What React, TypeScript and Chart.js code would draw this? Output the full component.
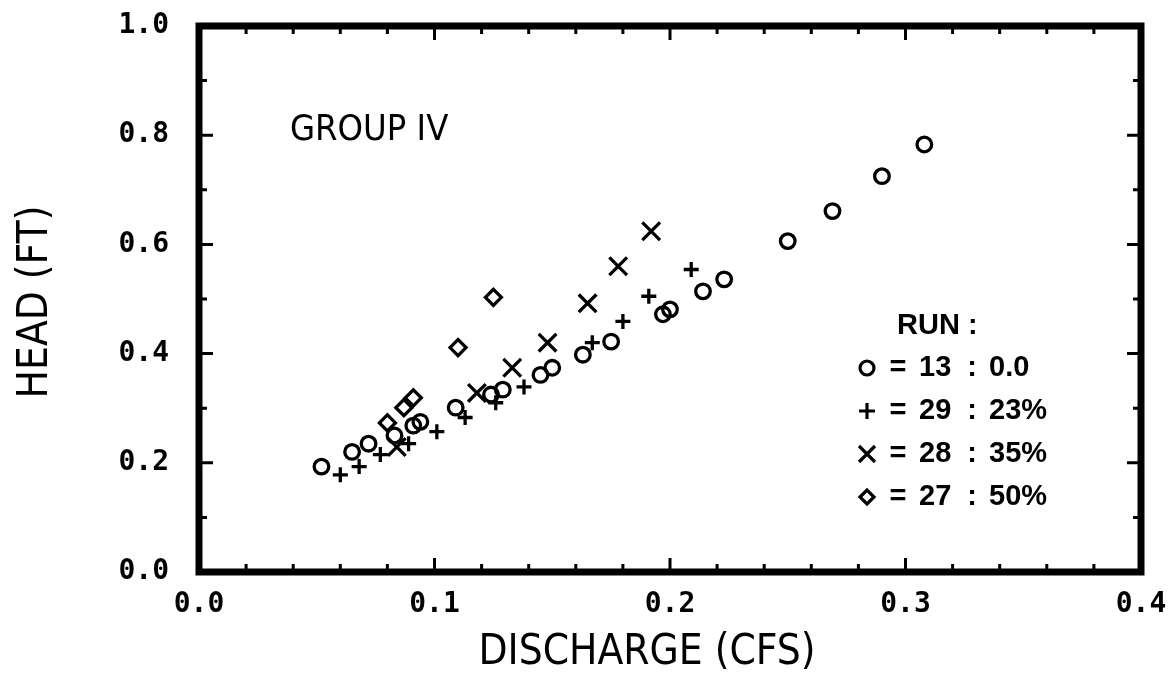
import React, { useEffect, useRef } from "react";
import { Chart, registerables } from "chart.js";

Chart.register(...registerables);

// ---- data ----
const RUN13_X = [0.052, 0.065, 0.072, 0.083, 0.091, 0.094, 0.109, 0.124, 0.129, 0.145, 0.150, 0.163, 0.175, 0.197, 0.200, 0.214, 0.223, 0.250, 0.269, 0.290, 0.308];
const RUN13_Y = [0.193, 0.220, 0.235, 0.250, 0.268, 0.275, 0.301, 0.325, 0.334, 0.361, 0.374, 0.398, 0.422, 0.472, 0.481, 0.514, 0.536, 0.606, 0.661, 0.725, 0.783];
const RUN29_X = [0.060, 0.068, 0.077, 0.089, 0.101, 0.113, 0.126, 0.138, 0.167, 0.180, 0.191, 0.209];
const RUN29_Y = [0.178, 0.193, 0.215, 0.235, 0.257, 0.283, 0.310, 0.339, 0.420, 0.459, 0.505, 0.554];
const RUN28_X = [0.084, 0.118, 0.133, 0.148, 0.165, 0.178, 0.192];
const RUN28_Y = [0.229, 0.328, 0.374, 0.420, 0.492, 0.560, 0.624];
const RUN27_X = [0.080, 0.087, 0.091, 0.110, 0.125];
const RUN27_Y = [0.273, 0.301, 0.319, 0.411, 0.503];

const X_MINOR_TICKS = [0, 0.02, 0.04, 0.06, 0.08, 0.1, 0.12, 0.14, 0.16, 0.18, 0.2, 0.22, 0.24, 0.26, 0.28, 0.3, 0.32, 0.34, 0.36, 0.38, 0.4];
const X_MAJOR_TICKS = [0, 0.1, 0.2, 0.3, 0.4];
const Y_MINOR_TICKS = [0, 0.1, 0.2, 0.3, 0.4, 0.5, 0.6, 0.7, 0.8, 0.9, 1.0];
const Y_MAJOR_TICKS = [0, 0.2, 0.4, 0.6, 0.8, 1.0];

const LEGEND_TITLE = "RUN :";
const LEGEND_RUNS = ["13", "29", "28", "27"];
const LEGEND_VALUES = ["0.0", "23%", "35%", "50%"];
const LEGEND_SYMBOLS = ["circle", "cross", "crossRot", "rectRot"];

const GROUP_LABEL = "GROUP IV";
const X_TITLE = "DISCHARGE (CFS)";
const Y_TITLE = "HEAD (FT)";

const NARROW = "'Liberation Sans Narrow', 'DejaVu Sans Condensed', 'Liberation Sans', sans-serif";
const TICK_FONT = "'DejaVu Sans Mono', monospace";

function toPoints(xs: number[], ys: number[]) {
  return xs.map((x, i) => ({ x, y: ys[i] }));
}

function isMajor(v: number, majors: number[]) {
  return majors.some((m) => Math.abs(m - v) < 1e-9);
}

function drawSymbol(ctx: CanvasRenderingContext2D, kind: string, x: number, y: number) {
  ctx.beginPath();
  if (kind === "circle") {
    ctx.arc(x, y, 7, 0, Math.PI * 2);
  } else if (kind === "cross") {
    ctx.moveTo(x - 8, y); ctx.lineTo(x + 8, y);
    ctx.moveTo(x, y - 8); ctx.lineTo(x, y + 8);
  } else if (kind === "crossRot") {
    ctx.moveTo(x - 8, y - 8); ctx.lineTo(x + 8, y + 8);
    ctx.moveTo(x + 8, y - 8); ctx.lineTo(x - 8, y + 8);
  } else {
    ctx.moveTo(x - 7, y); ctx.lineTo(x, y - 7); ctx.lineTo(x + 7, y); ctx.lineTo(x, y + 7);
    ctx.closePath();
  }
  ctx.stroke();
}

const framePlugin = {
  id: "frameAndText",
  afterDatasetsDraw(chart: any) {
    const { ctx, chartArea: a, scales } = chart;
    const xs = scales.x;
    const ys = scales.y;
    ctx.save();
    ctx.strokeStyle = "#000";
    ctx.fillStyle = "#000";
    ctx.lineCap = "butt";

    // inward tick marks on all four sides
    ctx.lineWidth = 3;
    ctx.beginPath();
    for (const v of X_MINOR_TICKS) {
      const px = xs.getPixelForValue(v);
      const len = isMajor(v, X_MAJOR_TICKS) ? 14 : 8;
      ctx.moveTo(px, a.bottom); ctx.lineTo(px, a.bottom - len);
      ctx.moveTo(px, a.top); ctx.lineTo(px, a.top + len);
    }
    for (const v of Y_MINOR_TICKS) {
      const py = ys.getPixelForValue(v);
      const len = isMajor(v, Y_MAJOR_TICKS) ? 14 : 8;
      ctx.moveTo(a.left, py); ctx.lineTo(a.left + len, py);
      ctx.moveTo(a.right, py); ctx.lineTo(a.right - len, py);
    }
    ctx.stroke();

    // heavy frame
    ctx.lineWidth = 7;
    ctx.lineJoin = "miter";
    ctx.strokeRect(a.left, a.top, a.right - a.left, a.bottom - a.top);

    // group label
    ctx.textBaseline = "middle";
    ctx.textAlign = "left";
    ctx.font = `36px ${NARROW}`;
    ctx.fillText(GROUP_LABEL, 290, 131);

    // legend
    ctx.font = "bold 29px 'Liberation Sans', Arial, sans-serif";
    ctx.textAlign = "left";
    ctx.fillText(LEGEND_TITLE, 897, 326);
    ctx.lineWidth = 3.2;
    for (let i = 0; i < LEGEND_RUNS.length; i++) {
      const yy = 368 + i * 43;
      drawSymbol(ctx, LEGEND_SYMBOLS[i], 867, yy);
      ctx.textAlign = "center";
      ctx.fillText("=", 898, yy);
      ctx.textAlign = "left";
      ctx.fillText(LEGEND_RUNS[i], 919, yy);
      ctx.textAlign = "center";
      ctx.fillText(":", 972, yy);
      ctx.textAlign = "left";
      ctx.fillText(LEGEND_VALUES[i], 989, yy);
    }

    // axis titles
    ctx.font = `42px ${NARROW}`;
    ctx.textAlign = "center";
    ctx.fillText(X_TITLE, 647, 653);
    ctx.save();
    ctx.translate(36, 302);
    ctx.rotate(-Math.PI / 2);
    ctx.fillText(Y_TITLE, 0, 0);
    ctx.restore();

    ctx.restore();
  },
};

export default function App() {
  const ref = useRef<HTMLCanvasElement | null>(null);

  useEffect(() => {
    if (!ref.current) return;
    const markerCommon = {
      borderColor: "#000",
      backgroundColor: "rgba(0,0,0,0)",
      borderWidth: 3.3,
      showLine: false,
    };
    const chart = new Chart(ref.current, {
      type: "scatter",
      data: {
        datasets: [
          { ...markerCommon, label: "13 : 0.0", data: toPoints(RUN13_X, RUN13_Y), pointStyle: "circle", pointRadius: 7.3 },
          { ...markerCommon, label: "29 : 23%", data: toPoints(RUN29_X, RUN29_Y), pointStyle: "cross", pointRadius: 7.5 },
          { ...markerCommon, label: "28 : 35%", data: toPoints(RUN28_X, RUN28_Y), pointStyle: "crossRot", pointRadius: 12.5 },
          { ...markerCommon, label: "27 : 50%", data: toPoints(RUN27_X, RUN27_Y), pointStyle: "rectRot", pointRadius: 8 },
        ],
      },
      options: {
        animation: false,
        responsive: false,
        layout: { padding: { top: 26, right: 34, left: 0, bottom: 0 } },
        plugins: { legend: { display: false }, tooltip: { enabled: false } },
        scales: {
          x: {
            type: "linear",
            min: 0,
            max: 0.4,
            grid: { display: false, drawTicks: false },
            border: { display: false },
            afterFit: (s: any) => { s.height = 102; s.paddingLeft = 0; s.paddingRight = 0; },
            ticks: {
              stepSize: 0.1,
              padding: 16,
              color: "#000",
              font: { family: TICK_FONT, weight: "bold", size: 28 },
              callback: (v: any) => Number(v).toFixed(1),
            },
          },
          y: {
            type: "linear",
            min: 0,
            max: 1,
            grid: { display: false, drawTicks: false },
            border: { display: false },
            afterFit: (s: any) => { s.width = 199; s.paddingTop = 0; s.paddingBottom = 0; },
            ticks: {
              stepSize: 0.2,
              padding: 30,
              color: "#000",
              font: { family: TICK_FONT, weight: "bold", size: 28 },
              callback: (v: any) => Number(v).toFixed(1),
            },
          },
        },
      },
      plugins: [framePlugin],
    } as any);
    return () => chart.destroy();
  }, []);

  return (
    <div style={{ position: "absolute", left: 0, top: 0, width: 1175, height: 674, background: "#fff" }}>
      <canvas ref={ref} width={1175} height={674} style={{ display: "block", width: 1175, height: 674 }} />
    </div>
  );
}
